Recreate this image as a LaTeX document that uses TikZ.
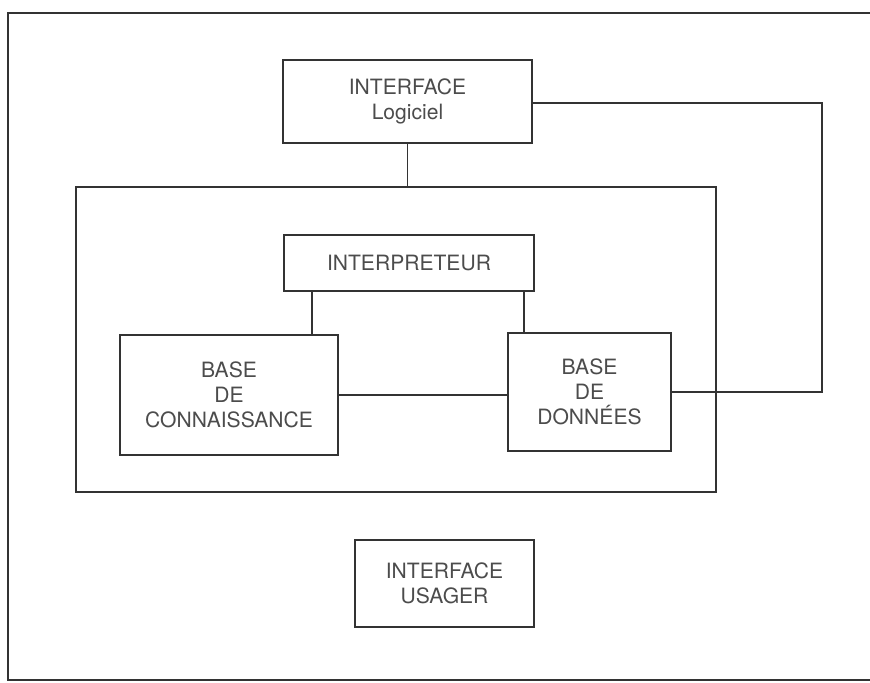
\documentclass[tikz,border=0pt]{standalone}
\usepackage{fontspec}
\setmainfont{TeX Gyre Heros}
\usetikzlibrary{calc,
	positioning}

\tikzset{
	trait/.style={draw=black!80, line width=1.1pt},
	boite/.style={trait, rectangle, align=center, inner sep=0pt,
		text=black!70, font=\fontsize{12}{14.2}\selectfont},
}

\begin{document}
\begin{tikzpicture}[x=0.02cm, y=-0.02cm]
	\useasboundingbox (0, 0) rectangle (870, 683);
	% cadre
	\draw[trait] (870, 13) -- (8, 13) -- (8, 680) -- (870, 680);
	% blocs
	\node[boite, minimum width=640*0.02cm, minimum height=305*0.02cm] (noyau) at (396, 339.5) {};
	\node[boite, minimum width=249*0.02cm, minimum height=83*0.02cm] (logiciel) at (407.5, 101.5) {INTERFACE\\Logiciel};
	\node[boite, minimum width=250*0.02cm, minimum height=56*0.02cm] (interp) at (409, 263) {INTERPRETEUR};
	\node[boite, minimum width=218*0.02cm, minimum height=120*0.02cm] (connaiss) at (229, 395) {BASE\\DE\\CONNAISSANCE};
	\node[boite, minimum width=163*0.02cm, minimum height=118*0.02cm] (donnees) at (589.5, 392) {BASE\\DE\\DONNÉES};
	\node[boite, minimum width=179*0.02cm, minimum height=87*0.02cm] (usager) at (444.5, 583.5) {INTERFACE\\USAGER};
	% liaisons
	\coordinate (coin) at (822, 103);
	\coordinate (piedg) at ($(interp.south west)+(29,0)$);
	\coordinate (piedd) at ($(interp.south east)-(11,0)$);
	\draw[trait] (logiciel.south) -- (logiciel.south |- noyau.north);
	\draw[trait] (piedg) -- (piedg |- connaiss.north);
	\draw[trait] (piedd) -- (piedd |- donnees.north);
	\draw[trait] (connaiss.east) -- (connaiss.east -| donnees.west);
	\draw[trait] (logiciel.east |- coin) -- (coin) -- (coin |- donnees.east) -- (donnees.east);
\end{tikzpicture}
\end{document}
